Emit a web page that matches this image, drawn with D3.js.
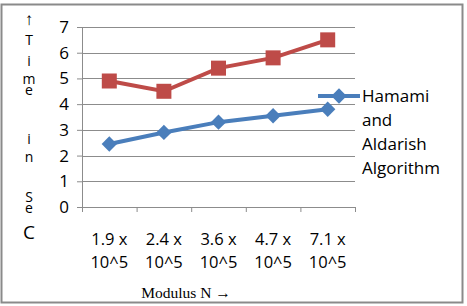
<!DOCTYPE html>
<html>
<head>
<meta charset="utf-8">
<script src="https://cdn.jsdelivr.net/npm/d3@7"></script>
<style>
  body { margin: 0; background: #fff; }
  svg { display: block; }
</style>
</head>
<body>
<svg id="chart" width="467" height="306"></svg>
<script>
// chart data
var categories = ["1.9 x|10^5", "2.4 x|10^5", "3.6 x|10^5", "4.7 x|10^5", "7.1 x|10^5"];
var redValues = [4.9, 4.5, 5.4, 5.8, 6.5];
var blueValues = [2.45, 2.9, 3.3, 3.55, 3.8];
var yTicks = [0, 1, 2, 3, 4, 5, 6, 7];
var legendLines = ["Hamami", "and", "Aldarish", "Algorithm"];
var yLabelChars = ["\u2191", "T", "i", "m", "e", "i", "n", "S", "e", "C"];

var _color = {
	red: "#be4b48",
	blue: "#4a7ebb",
	grid: "#8c8c8c",
	text: "#000"
};

var svg = d3.select("#chart"),
	margin = {top: 27, left: 82, right: 112, bottom: 99},
	width = +svg.attr("width") - margin.left - margin.right,
	height = +svg.attr("height") - margin.top - margin.bottom;

var x = d3.scaleBand().domain(categories).range([0, width]),
	y = d3.scaleLinear().domain([0, 7]).range([height, 0]);

// outer frame
svg.append("rect")
	.attr("x", 1.5).attr("y", 4.5)
	.attr("width", 461).attr("height", 298)
	.attr("fill", "none")
	.attr("stroke", "#8a8a8a")
	.attr("stroke-width", 2);

var g = svg.append("g")
	.attr("transform", "translate(" + margin.left + "," + margin.top + ")");

// gridlines
g.append("g").selectAll("line")
	.data(yTicks.slice(1)).enter()
	.append("line")
	.attr("x1", 0).attr("x2", width)
	.attr("y1", function(d){ return Math.round(y(d)) + 0.5; })
	.attr("y2", function(d){ return Math.round(y(d)) + 0.5; })
	.attr("stroke", _color.grid);

// y axis
var yAxis = d3.axisLeft(y).tickValues(yTicks).tickFormat(d3.format("d")).tickSize(5).tickPadding(8);
var ya = g.append("g").call(yAxis);
ya.select(".domain").attr("stroke", _color.grid);
ya.selectAll(".tick line").attr("stroke", _color.grid);
ya.selectAll(".tick text")
	.attr("font-family", "'Open Sans', sans-serif")
	.attr("font-size", 17)
	.attr("fill", _color.text);

// x axis
var xAxis = d3.axisBottom(x).tickSize(0).tickFormat("");
var xa = g.append("g").attr("transform", "translate(0," + height + ")").call(xAxis);
xa.select(".domain").attr("stroke", _color.grid);
// category boundary ticks
xa.append("g").selectAll("line")
	.data(d3.range(categories.length + 1)).enter()
	.append("line")
	.attr("x1", function(i){ return i * x.bandwidth() + 0.5; })
	.attr("x2", function(i){ return i * x.bandwidth() + 0.5; })
	.attr("y1", 0).attr("y2", 5)
	.attr("stroke", _color.grid);

var labels = g.append("g").selectAll("text")
	.data(categories).enter()
	.append("text")
	.attr("x", function(d){ return x(d) + x.bandwidth() / 2; })
	.attr("y", height + 38)
	.attr("text-anchor", "middle")
	.attr("font-family", "'Open Sans', sans-serif")
	.attr("font-size", 16.5)
	.attr("fill", _color.text);
labels.each(function(d){
	var parts = d.split("|");
	d3.select(this).append("tspan").attr("x", x(d) + x.bandwidth() / 2).text(parts[0]);
	d3.select(this).append("tspan").attr("x", x(d) + x.bandwidth() / 2).attr("dy", 23).text(parts[1]);
});

// x title
svg.append("text")
	.attr("x", 186).attr("y", 298)
	.attr("text-anchor", "middle")
	.attr("font-family", "'Liberation Serif', 'Times New Roman', serif")
	.attr("font-size", 15.5)
	.attr("fill", _color.text)
	.text("Modulus N \u2192");

// y title, stacked letters in one text
var yLabelPos = [25, 45, 66, 84, 95, 144, 162, 202, 213, 239];
var ySizes = [17, 14, 14, 14, 14, 14, 14, 14, 14, 19];
svg.append("text")
	.attr("font-family", "'Open Sans', sans-serif")
	.attr("fill", _color.text)
	.attr("text-anchor", "middle")
	.selectAll("tspan")
	.data(yLabelChars).enter()
	.append("tspan")
	.attr("x", 29)
	.attr("y", function(d, i){ return yLabelPos[i]; })
	.style("font-size", function(d, i){ return ySizes[i] + "px"; })
	.style("font-family", function(d, i){ return i == 0 ? "'Liberation Sans', sans-serif" : "'Open Sans', sans-serif"; })
	.text(function(d){ return d; });

// lines
var line = d3.line()
	.x(function(d, i){ return x(categories[i]) + x.bandwidth() / 2; })
	.y(function(d){ return y(d); });

g.append("path").datum(redValues)
	.attr("d", line)
	.attr("fill", "none")
	.attr("stroke", _color.red)
	.attr("stroke-width", 4);

g.append("path").datum(blueValues)
	.attr("d", line)
	.attr("fill", "none")
	.attr("stroke", _color.blue)
	.attr("stroke-width", 4);

g.selectAll(".sq")
	.data(redValues).enter()
	.append("rect").attr("class", "sq")
	.attr("x", function(d, i){ return x(categories[i]) + x.bandwidth() / 2 - 7.5; })
	.attr("y", function(d){ return y(d) - 7.5; })
	.attr("width", 15).attr("height", 15)
	.attr("fill", _color.red);

var diamond = d3.symbol().type(d3.symbolDiamond2).size(150);
g.selectAll(".dm")
	.data(blueValues).enter()
	.append("path").attr("class", "dm")
	.attr("d", diamond)
	.attr("transform", function(d, i){
		return "translate(" + (x(categories[i]) + x.bandwidth() / 2) + "," + y(d) + ")";
	})
	.attr("fill", _color.blue);

// legend
var lg = svg.append("g");
lg.append("line")
	.attr("x1", 318).attr("x2", 360)
	.attr("y1", 96).attr("y2", 96)
	.attr("stroke", _color.blue).attr("stroke-width", 4);
lg.append("path")
	.attr("d", diamond)
	.attr("transform", "translate(339,96)")
	.attr("fill", _color.blue);
lg.selectAll("text")
	.data(legendLines).enter()
	.append("text")
	.attr("x", 362)
	.attr("y", function(d, i){ return 102 + i * 24; })
	.attr("font-family", "'Open Sans', sans-serif")
	.attr("font-size", 17)
	.attr("fill", _color.text)
	.text(function(d){ return d; });
</script>
</body>
</html>
